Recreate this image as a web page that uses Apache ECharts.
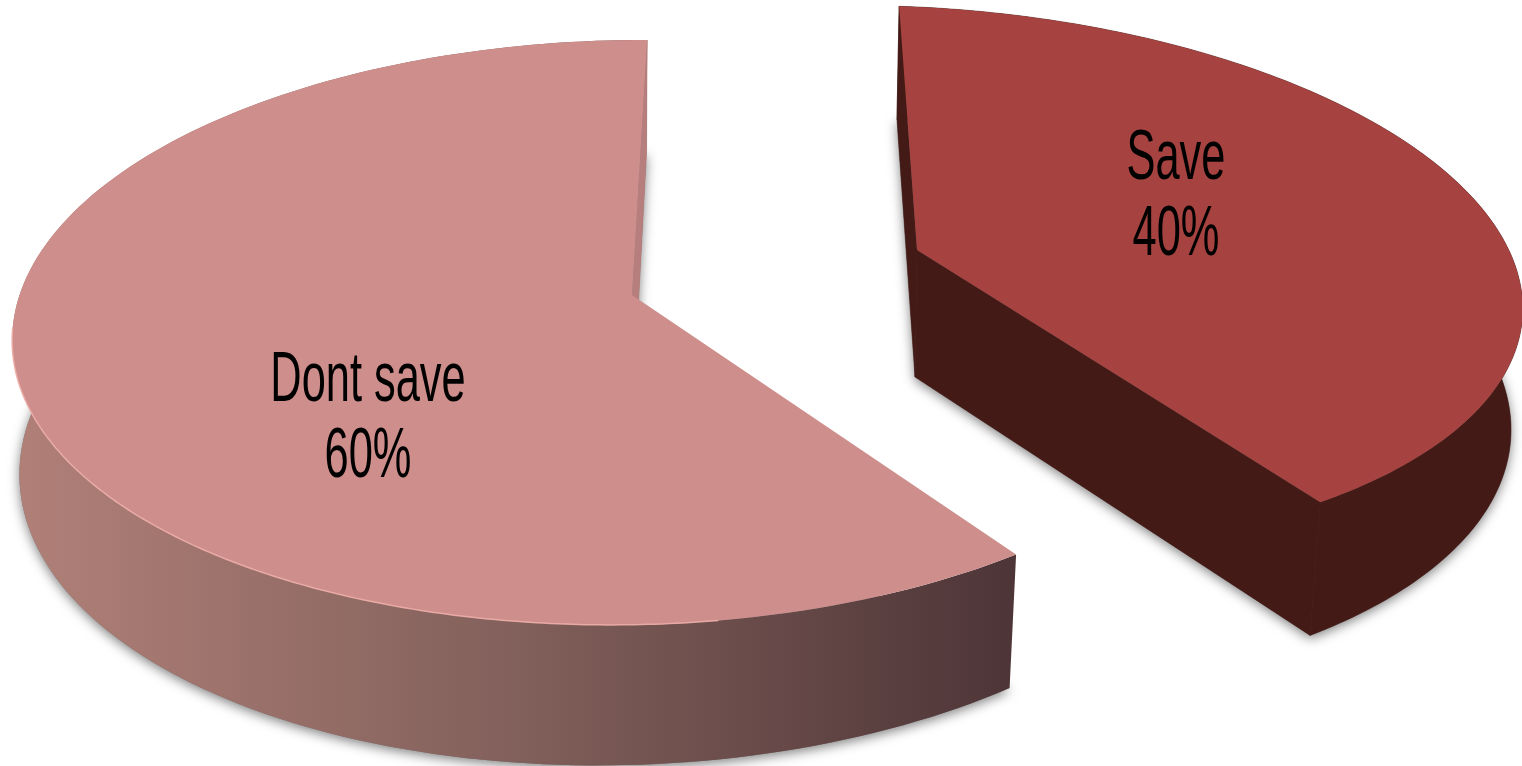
<!DOCTYPE html>
<html>
<head>
<meta charset="utf-8">
<style>html,body{margin:0;padding:0;background:#fff}#c{width:1522px;height:766px}</style>
<script src="https://cdn.jsdelivr.net/npm/echarts@6/dist/echarts.min.js"></script>
</head>
<body>
<div id="c"></div>
<script>
// Data (clockwise from the top of the pie)
const categories = ['Save', 'Dont save'];
const shares = [40, 60];

// Presentation
const topColors = ['#a64341', '#cd8e8c'];
const wallColors = ['#431a16', '#b67e7c'];
// Each exploded slice is a wedge projected in perspective: top disc and bottom disc
const projections = [
  { rot: 0.5,
    top: { cx: 917, cy: 250, rx: 599, ry: 270, k: 0.107, s: 25, t: 18 },
    bot: { cx: 915, cy: 377, rx: 590, ry: 283, k: 0.1, s: 25, t: 12 },
    label: [1176, 198] },
  { rot: -1.3,
    top: { cx: 632, cy: 295, rx: 610, ry: 287.6, k: 0.128, s: -31, t: 7 },
    bot: { cx: 632, cy: 423, rx: 604, ry: 302, k: 0.118, s: -30, t: 0 },
    label: [368, 420] }
];

function project(d, deg) {
  const a = deg * Math.PI / 180, u = Math.sin(a), v = -Math.cos(a), w = 1 - d.k * v;
  return [d.cx + (d.rx * u + d.s * v) / w, d.cy + (d.ry * v + d.t * u) / w];
}
function arc(d, from, to) {
  const pts = [], n = 160;
  for (let i = 0; i <= n; i++) pts.push(project(d, from + (to - from) * i / n));
  return pts;
}
const total = shares.reduce((a, b) => a + b, 0);
const sweepFrom = shares.map((v, i) => shares.slice(0, i).reduce((a, b) => a + b, 0) / total * 360);

function renderSlice(params, api) {
  const i = params.dataIndex, p = projections[i];
  const a0 = sweepFrom[i] + p.rot, a1 = a0 + api.value(0) / total * 360;
  const topArc = arc(p.top, a0, a1), botArc = arc(p.bot, a0, a1);
  const topApex = [p.top.cx, p.top.cy], botApex = [p.bot.cx, p.bot.cy];
  const last = topArc.length - 1;
  const children = [];
  // Soft drop shadow cast by the bottom face
  children.push({ type: 'polygon', shape: { points: [botApex].concat(botArc) }, silent: true,
    style: { fill: '#777', shadowColor: 'rgba(0,0,0,0.5)', shadowBlur: 12, shadowOffsetY: 3 } });
  // Outer curved wall
  const wallFill = i === 0 ? wallColors[0] : new echarts.graphic.LinearGradient(20, 0, 1008, 0, [
    { offset: 0, color: '#b08078' }, { offset: 0.5, color: '#82605b' }, { offset: 1, color: '#4e3537' }
  ], true);
  children.push({ type: 'polygon', shape: { points: topArc.concat(botArc.slice().reverse()) },
    style: { fill: wallFill, stroke: i === 0 ? wallColors[0] : null, lineWidth: 0.5 } });
  // Radial walls: the rear one on both slices, the front one only where it faces the viewer
  const wallStyle = { fill: wallColors[i], stroke: wallColors[i], lineWidth: 0.5 };
  const rear = i === 0 ? 0 : last;
  children.push({ type: 'polygon', shape: { points: [topApex, topArc[rear], botArc[rear], botApex] }, style: wallStyle });
  if (i === 0) {
    children.push({ type: 'polygon', shape: { points: [topApex, topArc[last], botArc[last], botApex] }, style: wallStyle });
  }
  // Top face
  children.push({ type: 'polygon', shape: { points: [topApex].concat(topArc) }, style: { fill: topColors[i] } });
  // Highlight along the near rim of the pale slice
  if (i === 1) {
    children.push({ type: 'polyline', shape: { points: arc(p.top, 170, 262) },
      style: { fill: null, stroke: 'rgba(240,175,170,0.9)', lineWidth: 1.5 } });
  }
  // Label
  children.push({ type: 'text', x: p.label[0], y: p.label[1], scaleX: 0.62,
    style: { text: categories[i] + '\n' + api.value(0) + '%', fill: '#000',
      font: '70px "Liberation Sans Narrow","Liberation Sans",sans-serif',
      lineHeight: 76, align: 'center', verticalAlign: 'middle' } });
  return { type: 'group', children };
}

const chart = echarts.init(document.getElementById('c'), null, { renderer: 'canvas' });
chart.setOption({
  animation: false,
  backgroundColor: '#fff',
  series: [{
    type: 'custom',
    coordinateSystem: 'none',
    renderItem: renderSlice,
    data: categories.map((name, i) => ({ name, value: [shares[i]] })),
    clip: false
  }]
});
</script>
</body>
</html>
